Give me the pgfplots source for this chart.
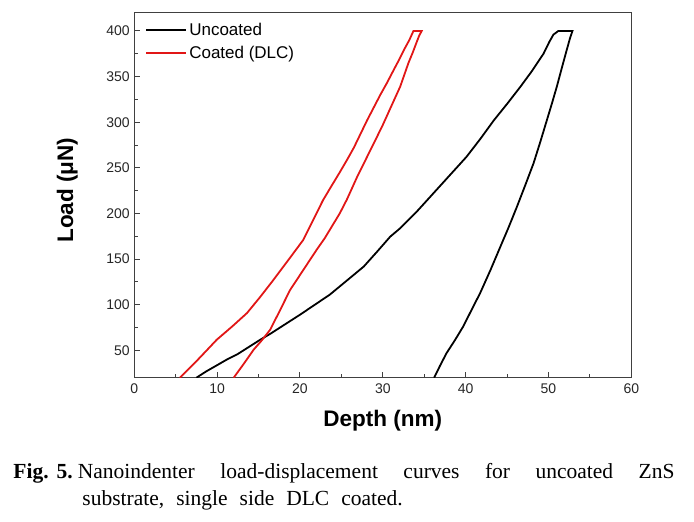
\documentclass[border=0pt]{standalone}
\usepackage{pgfplots}
\pgfplotsset{compat=1.18}
\usepackage{fontspec}
\setmainfont{Liberation Sans}
\newfontfamily\capfont{Liberation Serif}
\definecolor{dlcred}{RGB}{225,22,22}
\begin{document}
\begin{tikzpicture}
\begin{axis}[
  scale only axis,
  width=497pt, height=365pt,
  xmin=0, xmax=60, ymin=20, ymax=420,
  xtick={0,10,...,60}, ytick={50,100,...,400},
  minor x tick num=1, minor y tick num=1,
  xtick pos=bottom, ytick pos=left,
  tick align=inside,
  major tick length=6pt, minor tick length=3.5pt,
  axis line style={black!75, line width=1.3pt},
  every tick/.style={black!75, line width=1pt},
  /pgf/number format/assume math mode=true,
  tick label style={font=\fontsize{14}{14}\selectfont, black!85},
  xticklabel style={yshift=-2pt},
  yticklabel style={xshift=-1pt},
  xlabel={\textbf{Depth (nm)}},
  ylabel={\textbf{Load (μN)}},
  label style={font=\fontsize{22.5}{22.5}\selectfont},
  x label style={at={(axis description cs:0.5,0)}, anchor=center, yshift=-43pt},
  y label style={at={(axis description cs:0,0.5)}, anchor=center, yshift=67pt, xshift=5pt},
  legend style={at={(axis description cs:0,1)}, anchor=north west, xshift=10pt, yshift=-7pt,
    draw=none, fill=none, font=\fontsize{17}{17}\selectfont, row sep=5pt, inner sep=1pt},
  legend cell align=left,
  legend image code/.code={\draw[#1] (0pt,0pt) -- (40pt,0pt);},
  clip=true,
]
\coordinate (sw) at (rel axis cs:0,0);
\addplot[black, line width=1.8pt] coordinates {
(7.5,20) (8.7,27) (9.95,33.5) (11.2,40) (12.5,46) (13.8,53.5) (15.2,61.6) (16.4,68) (17.6,75) (18.8,82) (20.0,89) (21.8,100) (23.6,111) (25.6,126) (27.7,141.8) (29.3,158) (30.9,174.6) (32.1,183.8) (34.1,202) (36.1,222) (38.1,242) (40.1,262) (41.8,282) (43.4,302) (45,320) (46.6,338.7) (48,356) (49.4,375) (50.1,388) (50.6,396) (51.2,400) (52.9,400) (52.6,392) (52.2,379) (51.6,359) (51.0,338.7) (50.4,320) (49.8,302) (49.0,278) (48.2,255) (47.2,231) (46.2,207.5) (45.2,185) (44.2,163.7) (43.0,138) (41.75,112.7) (40.7,94) (39.7,76) (38.7,61) (37.7,47) (36.9,33) (36.2,20)
};
\addlegendentry{Uncoated}
\addplot[dlcred, line width=1.8pt] coordinates {
(5.5,20) (6.6,30) (7.7,40) (8.8,50.5) (9.95,61.6) (11.8,76) (13.6,90.8) (15.2,108.5) (16.8,127.2) (18.6,149) (20.4,171) (21.6,193) (22.8,214.8) (23.8,230) (24.8,245) (25.7,259) (26.5,272) (27.3,287) (28.1,302) (28.9,316) (29.7,330) (30.5,343) (31.3,357) (32.0,369) (32.6,380) (33.2,390) (33.7,400) (34.7,400) (34.4,395) (34.1,388) (33.6,376) (33.1,365) (32.6,352) (32.1,339) (31.4,325) (30.7,311) (30.0,297) (29.3,284) (28.1,262) (26.9,240) (25.65,215) (24.8,200) (24,188) (23.0,173) (22.0,160) (20.4,138) (18.8,116) (17.6,94) (16.4,72.5) (15.4,61) (14.4,50.6) (13.2,35) (12.0,20)
};
\addlegendentry{Coated (DLC)}
\end{axis}
\node[anchor=north west, inner sep=0pt, align=left, font=\capfont\fontsize{21.5}{27}\selectfont]
  at ([shift={(-121pt,-85.5pt)}]sw)
  {\makebox[661pt][s]{\textbf{Fig.\hspace{8pt}5.}\hspace{5pt}Nanoindenter load-displacement curves for uncoated ZnS}\\
   \hspace*{69pt}substrate,\hspace{12pt}single\hspace{12pt}side\hspace{12pt}DLC\hspace{12pt}coated.};
\pgfresetboundingbox
\useasboundingbox ([shift={(-134.3pt,-144.3pt)}]sw) rectangle ++(694pt,522pt);
\end{tikzpicture}
\end{document}
